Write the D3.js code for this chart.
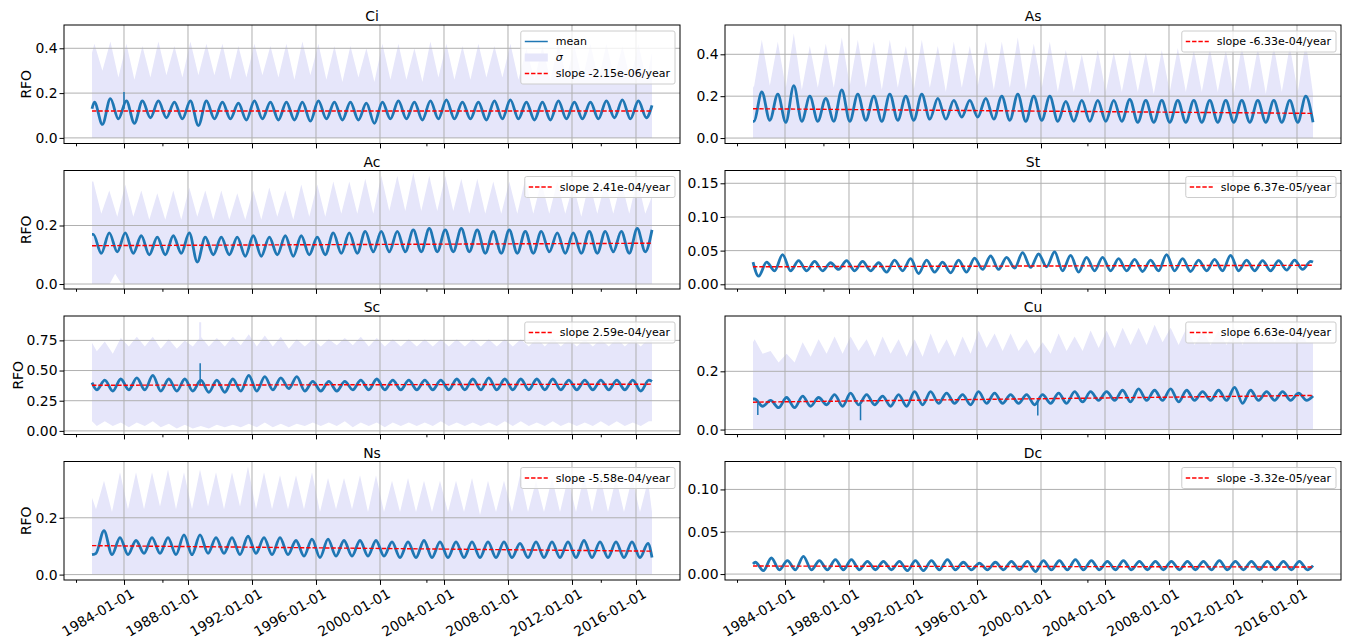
<!DOCTYPE html>
<html>
<head>
<meta charset="utf-8">
<script src="https://cdn.jsdelivr.net/npm/d3@7"></script>
<style>
  body { margin: 0; background: #fff; }
  svg { font-family: "DejaVu Sans", sans-serif; }
</style>
</head>
<body>
<script>
// ---- data ----
const names = ["Ci", "As", "Ac", "St", "Sc", "Cu", "Ns", "Dc"];
const slopes = [-2.15e-06, -6.33e-04, 2.41e-04, 6.37e-05, 2.59e-04, 6.63e-04, -5.58e-04, -3.32e-05];
const trendStart = [0.12, 0.14, 0.131, 0.026, 0.378, 0.094, 0.102, 0.0095];
// fraction of the year where the seasonal peak / trough sits
const peakPhase = [0.15, 0.55, 0.08, 0.85, 0.8, 0.1, 0.75, 0.15];
const troughPhase = [0.65, 0.05, 0.58, 0.35, 0.3, 0.6, 0.25, 0.65];

const years = [1982, 1983, 1984, 1985, 1986, 1987, 1988, 1989, 1990, 1991, 1992, 1993,
  1994, 1995, 1996, 1997, 1998, 1999, 2000, 2001, 2002, 2003, 2004, 2005, 2006, 2007,
  2008, 2009, 2010, 2011, 2012, 2013, 2014, 2015, 2016];
const majorTicks = [1984, 1988, 1992, 1996, 2000, 2004, 2008, 2012, 2016];
const minorTicks = [1981.0, 1986.4, 2002.9, 2013.8];

// mean: yearly peaks / troughs; ends = [mean start, mean end, sigma-top start, sigma-top end]
const ciMeanHi = [0.16,0.175,0.165,0.165,0.165,0.16,0.165,0.165,0.16,0.155,0.165,0.16,0.16,0.16,0.165,0.16,0.16,0.155,0.16,0.165,0.16,0.165,0.17,0.16,0.16,0.165,0.17,0.16,0.16,0.165,0.16,0.16,0.165,0.17,0.165];
const ciMeanLo = [0.06,0.085,0.065,0.09,0.09,0.085,0.055,0.085,0.085,0.08,0.085,0.08,0.08,0.075,0.085,0.08,0.08,0.065,0.085,0.085,0.08,0.085,0.085,0.085,0.08,0.085,0.085,0.08,0.08,0.085,0.085,0.085,0.09,0.085,0.09];
const ciBandHi = [0.42,0.43,0.42,0.41,0.43,0.41,0.43,0.42,0.42,0.41,0.42,0.41,0.42,0.43,0.42,0.41,0.41,0.40,0.42,0.42,0.40,0.43,0.42,0.41,0.42,0.41,0.42,0.40,0.41,0.42,0.41,0.42,0.42,0.41,0.42];
const ciBandLo = [0.30,0.27,0.26,0.27,0.28,0.27,0.28,0.28,0.26,0.27,0.28,0.27,0.26,0.28,0.26,0.25,0.27,0.25,0.26,0.26,0.25,0.27,0.26,0.26,0.27,0.27,0.26,0.26,0.26,0.27,0.26,0.26,0.27,0.26,0.26];
const ciEnds = [0.13, 0.145, 0.38, 0.38];

const asMeanHi = [0.22,0.21,0.25,0.20,0.19,0.23,0.21,0.20,0.21,0.20,0.21,0.19,0.18,0.18,0.19,0.20,0.21,0.20,0.20,0.175,0.18,0.18,0.18,0.185,0.18,0.18,0.18,0.18,0.18,0.18,0.18,0.18,0.18,0.18,0.20];
const asMeanLo = [0.08,0.085,0.075,0.08,0.08,0.08,0.08,0.085,0.08,0.085,0.085,0.09,0.09,0.10,0.10,0.09,0.085,0.08,0.085,0.08,0.08,0.08,0.08,0.08,0.075,0.075,0.075,0.075,0.075,0.075,0.075,0.075,0.075,0.075,0.075];
const asBandHi = [0.47,0.46,0.50,0.44,0.45,0.48,0.47,0.46,0.47,0.44,0.47,0.44,0.46,0.44,0.46,0.46,0.48,0.45,0.46,0.42,0.40,0.42,0.41,0.42,0.41,0.42,0.43,0.42,0.43,0.42,0.44,0.43,0.44,0.44,0.46];
const asBandLo = [0.24,0.25,0.24,0.23,0.24,0.24,0.25,0.24,0.23,0.24,0.23,0.24,0.22,0.24,0.25,0.23,0.24,0.23,0.24,0.22,0.22,0.21,0.22,0.22,0.22,0.21,0.22,0.22,0.22,0.22,0.21,0.22,0.21,0.22,0.22];
const asEnds = [0.08, 0.075, 0.25, 0.21];

const acMeanHi = [0.17,0.175,0.175,0.165,0.16,0.165,0.175,0.16,0.16,0.16,0.165,0.16,0.165,0.165,0.16,0.175,0.175,0.18,0.18,0.18,0.185,0.19,0.185,0.19,0.185,0.18,0.185,0.18,0.18,0.175,0.175,0.18,0.18,0.18,0.19];
const acMeanLo = [0.105,0.11,0.105,0.10,0.10,0.105,0.075,0.10,0.10,0.095,0.095,0.10,0.095,0.10,0.10,0.105,0.105,0.11,0.11,0.11,0.11,0.11,0.11,0.11,0.105,0.105,0.105,0.105,0.11,0.105,0.105,0.105,0.11,0.105,0.11];
const acBandHi = [0.35,0.32,0.34,0.32,0.31,0.32,0.33,0.32,0.32,0.31,0.32,0.33,0.32,0.34,0.34,0.35,0.35,0.36,0.37,0.37,0.38,0.37,0.37,0.36,0.36,0.35,0.35,0.36,0.35,0.35,0.34,0.35,0.35,0.35,0.36];
const acBandLo = [0.24,0.23,0.23,0.22,0.22,0.22,0.23,0.22,0.22,0.22,0.22,0.23,0.22,0.23,0.23,0.24,0.24,0.24,0.25,0.25,0.25,0.25,0.25,0.24,0.24,0.24,0.24,0.24,0.24,0.24,0.23,0.24,0.24,0.24,0.24];
const acEnds = [0.17, 0.185, 0.35, 0.30];
const acFloor = [[1982.0, 0], [1983.1, 0], [1983.45, 0.035], [1983.8, 0.004], [1984.2, 0], [2017.0, 0]];

const stMeanHi = [0.033,0.044,0.035,0.034,0.032,0.035,0.034,0.032,0.036,0.038,0.036,0.033,0.036,0.039,0.042,0.040,0.047,0.045,0.048,0.043,0.040,0.040,0.038,0.037,0.036,0.044,0.038,0.036,0.037,0.043,0.036,0.035,0.035,0.036,0.034];
const stMeanLo = [0.012,0.020,0.020,0.020,0.020,0.022,0.020,0.020,0.018,0.020,0.016,0.018,0.017,0.018,0.022,0.022,0.024,0.025,0.026,0.020,0.018,0.020,0.020,0.020,0.019,0.020,0.020,0.019,0.020,0.020,0.020,0.020,0.020,0.021,0.022];
const stEnds = [0.033, 0.033];

const scMeanHi = [0.42,0.43,0.44,0.46,0.43,0.43,0.42,0.42,0.43,0.46,0.45,0.44,0.45,0.41,0.41,0.41,0.42,0.43,0.42,0.42,0.42,0.42,0.43,0.43,0.44,0.43,0.43,0.43,0.43,0.42,0.42,0.42,0.42,0.42,0.42];
const scMeanLo = [0.34,0.33,0.34,0.34,0.33,0.33,0.33,0.32,0.32,0.33,0.33,0.34,0.35,0.33,0.33,0.33,0.34,0.34,0.34,0.34,0.34,0.34,0.34,0.34,0.34,0.34,0.34,0.34,0.34,0.34,0.34,0.34,0.34,0.34,0.33];
const scBandHi = [0.74,0.77,0.78,0.78,0.76,0.75,0.78,0.77,0.78,0.80,0.79,0.78,0.76,0.76,0.76,0.77,0.78,0.77,0.76,0.76,0.76,0.76,0.76,0.76,0.76,0.76,0.76,0.77,0.77,0.76,0.76,0.76,0.77,0.76,0.77];
const scBandLo = [0.66,0.64,0.70,0.70,0.68,0.68,0.70,0.70,0.70,0.71,0.70,0.70,0.68,0.70,0.70,0.71,0.71,0.70,0.70,0.70,0.70,0.70,0.70,0.70,0.70,0.70,0.70,0.70,0.70,0.70,0.70,0.70,0.70,0.70,0.70];
const scFloorHi = [0.08,0.07,0.07,0.08,0.06,0.05,0.04,0.05,0.05,0.06,0.07,0.06,0.06,0.07,0.07,0.08,0.07,0.07,0.07,0.07,0.07,0.08,0.07,0.07,0.07,0.08,0.08,0.07,0.08,0.07,0.07,0.08,0.08,0.07,0.08];
const scFloorLo = [0.04,0.04,0.03,0.04,0.03,0.02,0.02,0.02,0.03,0.03,0.03,0.03,0.03,0.04,0.04,0.04,0.03,0.04,0.03,0.04,0.04,0.04,0.04,0.04,0.04,0.04,0.04,0.04,0.04,0.04,0.04,0.04,0.04,0.04,0.04];
const scEnds = [0.40, 0.41, 0.73, 0.76];
const scFloorEnds = [0.08, 0.08];

const cuMeanHi = [0.105,0.10,0.11,0.115,0.11,0.12,0.125,0.12,0.115,0.12,0.13,0.13,0.125,0.12,0.13,0.125,0.12,0.12,0.12,0.125,0.13,0.13,0.13,0.135,0.14,0.135,0.14,0.135,0.13,0.135,0.145,0.135,0.13,0.13,0.125];
const cuMeanLo = [0.08,0.075,0.075,0.08,0.085,0.08,0.085,0.085,0.08,0.08,0.085,0.09,0.09,0.085,0.09,0.09,0.09,0.085,0.09,0.09,0.095,0.10,0.10,0.095,0.10,0.10,0.095,0.10,0.10,0.10,0.09,0.10,0.10,0.10,0.10];
const cuBandHi = [0.31,0.27,0.26,0.30,0.31,0.32,0.32,0.31,0.32,0.31,0.31,0.33,0.31,0.32,0.34,0.33,0.33,0.31,0.30,0.33,0.32,0.34,0.34,0.35,0.35,0.36,0.35,0.35,0.34,0.34,0.35,0.36,0.35,0.35,0.35];
const cuBandLo = [0.26,0.23,0.23,0.25,0.26,0.26,0.27,0.25,0.26,0.25,0.25,0.26,0.25,0.26,0.28,0.27,0.27,0.26,0.26,0.27,0.27,0.28,0.28,0.29,0.29,0.30,0.29,0.29,0.29,0.29,0.29,0.30,0.30,0.30,0.30];
const cuEnds = [0.105, 0.115, 0.30, 0.30];

const nsMeanHi = [0.155,0.13,0.12,0.13,0.13,0.14,0.14,0.13,0.13,0.135,0.13,0.13,0.12,0.125,0.125,0.12,0.12,0.12,0.115,0.115,0.12,0.115,0.115,0.115,0.115,0.115,0.11,0.115,0.115,0.115,0.12,0.115,0.115,0.115,0.11];
const nsMeanLo = [0.075,0.07,0.07,0.075,0.075,0.07,0.07,0.075,0.075,0.07,0.075,0.07,0.07,0.065,0.06,0.065,0.065,0.065,0.065,0.06,0.06,0.06,0.06,0.06,0.06,0.06,0.06,0.06,0.06,0.06,0.06,0.06,0.06,0.06,0.06];
const nsBandHi = [0.33,0.36,0.36,0.36,0.37,0.36,0.37,0.36,0.36,0.38,0.36,0.35,0.35,0.36,0.34,0.34,0.35,0.35,0.33,0.34,0.33,0.33,0.33,0.34,0.33,0.33,0.35,0.33,0.34,0.34,0.35,0.35,0.34,0.34,0.33];
const nsBandLo = [0.23,0.22,0.23,0.23,0.24,0.23,0.23,0.24,0.23,0.24,0.23,0.23,0.23,0.23,0.22,0.23,0.23,0.22,0.22,0.22,0.22,0.22,0.22,0.22,0.21,0.22,0.22,0.22,0.22,0.22,0.22,0.22,0.22,0.22,0.22];
const nsEnds = [0.07, 0.06, 0.27, 0.22];

const dcMeanHi = [0.014,0.019,0.016,0.021,0.016,0.017,0.017,0.015,0.015,0.015,0.016,0.016,0.017,0.014,0.013,0.014,0.015,0.015,0.016,0.016,0.017,0.016,0.015,0.016,0.015,0.015,0.015,0.015,0.015,0.016,0.015,0.015,0.015,0.015,0.015];
const dcMeanLo = [0.004,0.005,0.005,0.005,0.005,0.005,0.005,0.005,0.005,0.004,0.004,0.005,0.005,0.005,0.005,0.005,0.005,0.003,0.005,0.005,0.005,0.005,0.005,0.005,0.005,0.005,0.005,0.005,0.005,0.005,0.005,0.005,0.005,0.005,0.005];
const dcEnds = [0.012, 0.010];

// single-day excursions: [panel, decimal year, from, to]
const spikes = [["Ci", 1984.0, 0.13, 0.205], ["Sc", 1988.76, 0.38, 0.56],
  ["Cu", 1982.3, 0.09, 0.05], ["Cu", 1988.72, 0.085, 0.032], ["Cu", 1999.8, 0.095, 0.048]];
const bandSpikes = [["Sc", 1988.76, 0.76, 0.90]];

// axis limits and ticks
const yLimits = [[-0.025, 0.504], [-0.026, 0.54], [-0.017, 0.388], [-0.007, 0.169],
  [-0.03, 0.952], [-0.017, 0.39], [-0.019, 0.398], [-0.007, 0.133]];
const yTicks = [[0, 0.2, 0.4], [0, 0.2, 0.4], [0, 0.2], [0, 0.05, 0.10, 0.15],
  [0, 0.25, 0.5, 0.75], [0, 0.2], [0, 0.2], [0, 0.05, 0.10]];
const yFormats = [".1f", ".1f", ".1f", ".2f", ".2f", ".1f", ".1f", ".2f"];

// ---- build panel table ----
const panels = [
  { hi: ciMeanHi, lo: ciMeanLo, bHi: ciBandHi, bLo: ciBandLo, ends: ciEnds },
  { hi: asMeanHi, lo: asMeanLo, bHi: asBandHi, bLo: asBandLo, ends: asEnds },
  { hi: acMeanHi, lo: acMeanLo, bHi: acBandHi, bLo: acBandLo, ends: acEnds, floor: acFloor },
  { hi: stMeanHi, lo: stMeanLo, ends: stEnds },
  { hi: scMeanHi, lo: scMeanLo, bHi: scBandHi, bLo: scBandLo, ends: scEnds,
    fHi: scFloorHi, fLo: scFloorLo, fEnds: scFloorEnds },
  { hi: cuMeanHi, lo: cuMeanLo, bHi: cuBandHi, bLo: cuBandLo, ends: cuEnds },
  { hi: nsMeanHi, lo: nsMeanLo, bHi: nsBandHi, bLo: nsBandLo, ends: nsEnds },
  { hi: dcMeanHi, lo: dcMeanLo, ends: dcEnds }
];

function dec(t) {
  const yr = Math.floor(t);
  const a = new Date(yr, 0, 1), b = new Date(yr + 1, 0, 1);
  return new Date(+a + (t - yr) * (b - a));
}

// peaks and troughs in date order, with the first and last day
function knots(hi, lo, start, end, i) {
  const pts = [[1982.0, start]];
  years.forEach((yr, k) => {
    pts.push([yr + peakPhase[i], hi[k]]);
    pts.push([yr + troughPhase[i], lo[k]]);
  });
  pts.push([2017.0, end]);
  return pts.filter(p => p[0] >= 1982 && p[0] <= 2017).sort((a, b) => a[0] - b[0]);
}

function fmtSlope(v) {
  const parts = v.toExponential(2).split("e");
  const n = parseInt(parts[1]);
  return "slope " + parts[0] + "e" + (n < 0 ? "-" : "+") + String(Math.abs(n)).padStart(2, "0") + "/year";
}

// ---- drawing ----
const W = 616, H = 118.5;
const colX = [64, 725];
const rowY = [25, 170.5, 316, 461.5];
const blue = "#1f77b4", lav = "#e6e6fa";
const tickFont = "13.9px";

const svg = d3.select("body").append("svg")
  .attr("width", 1348)
  .attr("height", 642);

const x = d3.scaleTime()
  .domain([dec(1980.25), dec(2018.75)])
  .range([0, W]);

panels.forEach((p, i) => {
  const col = i % 2, row = Math.floor(i / 2);
  const g = svg.append("g").attr("transform", `translate(${colX[col]},${rowY[row]})`);
  const y = d3.scaleLinear().domain(yLimits[i]).range([H, 0]);
  const line = d3.line().x(d => x(dec(d[0]))).y(d => y(d[1]));

  g.append("clipPath").attr("id", "clip" + i)
    .append("rect").attr("width", W).attr("height", H);
  const plot = g.append("g").attr("clip-path", `url(#clip${i})`);

  // sigma band
  if (p.bHi) {
    const top = knots(p.bHi, p.bLo, p.ends[2], p.ends[3], i);
    let floor = [[1982.0, 0], [2017.0, 0]];
    if (p.floor) floor = p.floor;
    if (p.fHi) floor = knots(p.fHi, p.fLo, p.fEnds[0], p.fEnds[1], i);
    plot.append("path")
      .attr("d", line(top.concat(floor.slice().reverse())) + "Z")
      .attr("fill", lav);
    plot.selectAll(".bspike")
      .data(bandSpikes.filter(s => s[0] === names[i]))
      .join("line")
      .attr("x1", d => x(dec(d[1]))).attr("x2", d => x(dec(d[1])))
      .attr("y1", d => y(d[2])).attr("y2", d => y(d[3]))
      .attr("stroke", lav).attr("stroke-width", 2);
  }

  // grid
  plot.selectAll(".gx").data(majorTicks).join("line")
    .attr("x1", d => x(dec(d))).attr("x2", d => x(dec(d)))
    .attr("y1", 0).attr("y2", H)
    .attr("stroke", "#b0b0b0").attr("stroke-width", 1);
  plot.selectAll(".gy").data(yTicks[i]).join("line")
    .attr("x1", 0).attr("x2", W)
    .attr("y1", d => y(d)).attr("y2", d => y(d))
    .attr("stroke", "#b0b0b0").attr("stroke-width", 1);

  // mean
  plot.append("path")
    .attr("d", line.curve(d3.curveMonotoneX)(knots(p.hi, p.lo, p.ends[0], p.ends[1], i)))
    .attr("fill", "none")
    .attr("stroke", blue)
    .attr("stroke-width", 2.8)
    .attr("stroke-linejoin", "round");
  line.curve(d3.curveLinear);
  plot.selectAll(".spike")
    .data(spikes.filter(s => s[0] === names[i]))
    .join("line")
    .attr("x1", d => x(dec(d[1]))).attr("x2", d => x(dec(d[1])))
    .attr("y1", d => y(d[2])).attr("y2", d => y(d[3]))
    .attr("stroke", blue).attr("stroke-width", 1.5);

  // trend
  const trend = [[1982.0, trendStart[i]], [2017.0, trendStart[i] + slopes[i] * 35]];
  plot.append("path")
    .attr("d", line(trend))
    .attr("fill", "none")
    .attr("stroke", "#ff0000")
    .attr("stroke-width", 1.4)
    .attr("stroke-dasharray", "4.4,1.9");

  // spines
  g.append("rect")
    .attr("width", W).attr("height", H)
    .attr("fill", "none").attr("stroke", "#000").attr("stroke-width", 1);

  // axes
  const ya = g.append("g")
    .call(d3.axisLeft(y).tickValues(yTicks[i]).tickSize(4.5).tickPadding(2)
      .tickFormat(d3.format(yFormats[i])));
  ya.select(".domain").remove();
  ya.selectAll("text").style("font-size", tickFont).style("font-family", "DejaVu Sans").attr("fill", "#000");

  const xa = g.append("g").attr("transform", `translate(0,${H})`)
    .call(d3.axisBottom(x).tickValues(majorTicks.map(dec)).tickSize(4.9)
      .tickFormat(row === 3 ? d3.timeFormat("%Y-%m-%d") : ""));
  xa.select(".domain").remove();
  xa.selectAll("text")
    .attr("x", 0).attr("y", 0).attr("dy", "0.71em")
    .attr("text-anchor", "end")
    .attr("transform", "translate(6,8) rotate(-30)")
    .style("font-size", tickFont).style("font-family", "DejaVu Sans").attr("fill", "#000");
  const xm = g.append("g").attr("transform", `translate(0,${H})`)
    .call(d3.axisBottom(x).tickValues(minorTicks.map(dec)).tickSize(2.8).tickFormat(""));
  xm.select(".domain").remove();

  // title
  g.append("text")
    .attr("x", W / 2).attr("y", -4)
    .attr("text-anchor", "middle")
    .style("font-size", tickFont)
    .text(names[i]);

  if (col === 0) {
    const lw = d3.max(ya.selectAll("text").nodes(), n => n.getComputedTextLength());
    g.append("text")
      .attr("transform", `translate(${-(lw + 10.5)},${H / 2}) rotate(-90)`)
      .attr("text-anchor", "middle")
      .style("font-size", tickFont)
      .text("RFO");
  }

  // legend
  const entries = i === 0
    ? [{ k: "line", t: "mean" }, { k: "patch", t: "σ" }, { k: "dash", t: fmtSlope(slopes[i]) }]
    : [{ k: "dash", t: fmtSlope(slopes[i]) }];
  const lg = g.append("g");
  const box = lg.append("rect");
  entries.forEach((e, k) => {
    const cy = 10.5 + k * 16;
    if (e.k === "line") {
      lg.append("line").attr("x1", 4).attr("x2", 27).attr("y1", cy).attr("y2", cy)
        .attr("stroke", blue).attr("stroke-width", 1.5);
    } else if (e.k === "patch") {
      lg.append("rect").attr("x", 4).attr("y", cy - 4).attr("width", 23).attr("height", 8)
        .attr("fill", lav);
    } else {
      lg.append("line").attr("x1", 4).attr("x2", 27).attr("y1", cy).attr("y2", cy)
        .attr("stroke", "#ff0000").attr("stroke-width", 1.4).attr("stroke-dasharray", "4.4,1.9");
    }
    lg.append("text").attr("class", "lt")
      .attr("x", 35).attr("y", cy).attr("dy", "0.35em")
      .style("font-size", "11px")
      .style("font-style", e.k === "patch" ? "italic" : "normal")
      .text(e.t);
  });
  const tw = d3.max(lg.selectAll(".lt").nodes(), n => n.getComputedTextLength());
  const bw = 35 + tw + 5, bh = entries.length * 16 + 5;
  box.attr("width", bw).attr("height", bh).attr("rx", 2)
    .attr("fill", "#fff").attr("fill-opacity", 0.8)
    .attr("stroke", "#ccc").attr("stroke-width", 1);
  lg.attr("transform", `translate(${W - 5 - bw},6)`);
});
</script>
</body>
</html>
